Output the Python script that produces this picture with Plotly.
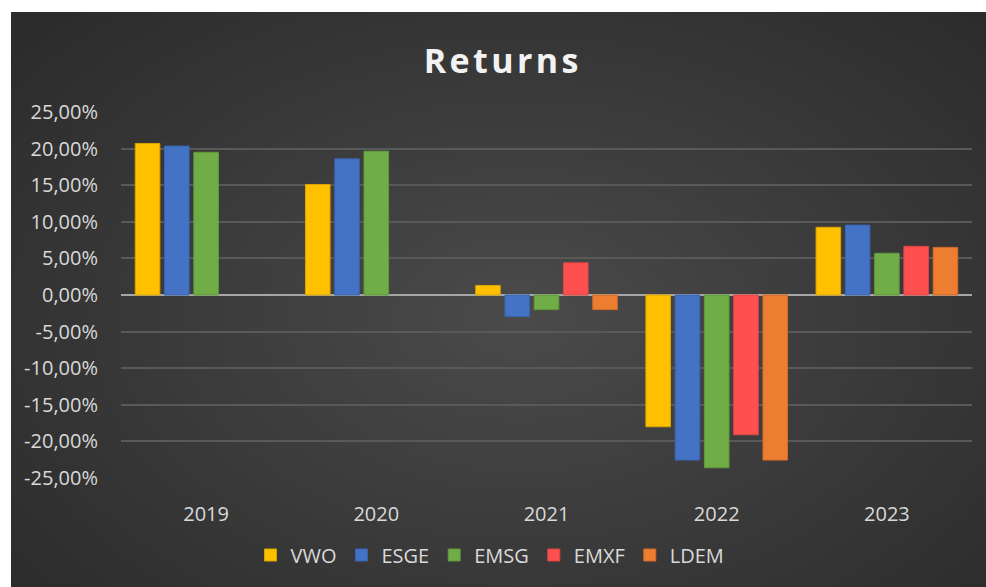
import plotly.graph_objects as go

# Data
years = ["2019", "2020", "2021", "2022", "2023"]
series = ["VWO", "ESGE", "EMSG", "EMXF", "LDEM"]
vwo = [20.7, 15.1, 1.3, -18.0, 9.25]
esge = [20.35, 18.6, -2.95, -22.55, 9.55]
emsg = [19.5, 19.65, -2.0, -23.6, 5.7]
emxf = [None, None, 4.4, -19.1, 6.65]
ldem = [None, None, -2.0, -22.55, 6.5]
y_ticks = [25, 20, 15, 10, 5, 0, -5, -10, -15, -20, -25]
y_tick_labels = ["25,00%", "20,00%", "15,00%", "10,00%", "5,00%", "0,00%",
                 "-5,00%", "-10,00%", "-15,00%", "-20,00%", "-25,00%"]

colors = ["#FFC000", "#4472C4", "#70AD47", "#FF5050", "#ED7D31"]
edges = ["#d9a300", "#3a64b0", "#62993d", "#e04545", "#cf6c28"]

# plot area in pixels
W, H = 986, 587
L, R, T, B = 121, 14, 112, 109
pw, ph = W - L - R, H - T - B


def px(x):
    return (x - L) / pw


def py(y):
    return (H - B - y) / ph


fig = go.Figure()
for name, vals, c, e in zip(series, [vwo, esge, emsg, emxf, ldem], colors, edges):
    fig.add_trace(go.Bar(x=years, y=vals, name=name,
                         marker=dict(color=c, line=dict(color=e, width=1))))

shapes = []
# soft radial-ish gradient in the background
cx, cy = 520, 320
n = 30
for i in range(n):
    rx = 640 - i * 640 / n
    ry = 420 - i * 420 / n
    shapes.append(dict(type="circle", xref="paper", yref="paper", layer="below",
                       x0=px(cx - rx), x1=px(cx + rx), y0=py(cy + ry), y1=py(cy - ry),
                       fillcolor="rgba(255,255,255,0.0085)", line=dict(width=0)))
# white border of the picture
shapes.append(dict(type="rect", xref="paper", yref="paper", layer="above",
                   x0=px(0), x1=px(11), y0=py(H), y1=py(0),
                   fillcolor="white", line=dict(width=0)))
shapes.append(dict(type="rect", xref="paper", yref="paper", layer="above",
                   x0=px(0), x1=px(W), y0=py(12), y1=py(0),
                   fillcolor="white", line=dict(width=0)))

title = "\u200a".join("Returns")

fig.update_layout(
    width=W, height=H,
    margin=dict(l=L, r=R, t=T, b=B),
    paper_bgcolor="#2c2c2c",
    plot_bgcolor="rgba(0,0,0,0)",
    font=dict(family="Open Sans, sans-serif", color="#d9d9d9", size=20),
    title=dict(text="<b>" + title + "</b>", x=501 / W, xanchor="center",
               y=1 - 61 / H, yanchor="middle",
               font=dict(size=34, color="#f2f2f2", family="Open Sans, sans-serif")),
    barmode="group", bargap=0.14, bargroupgap=0.16,
    showlegend=True,
    legend=dict(orientation="h", x=px(490), xanchor="center", y=py(555), yanchor="middle",
                font=dict(size=20, color="#d9d9d9"), itemwidth=30,
                bgcolor="rgba(0,0,0,0)"),
    shapes=shapes,
)
fig.update_xaxes(type="category", showgrid=False, showline=False, ticks="",
                 ticklabelstandoff=22, tickfont=dict(size=20, color="#d9d9d9"))
fig.update_yaxes(range=[-25, 25], tickvals=y_ticks, ticktext=y_tick_labels,
                 showgrid=True, gridcolor="#595959", gridwidth=1.5,
                 zeroline=True, zerolinecolor="#a6a6a6", zerolinewidth=2,
                 ticklabelstandoff=22, tickfont=dict(size=20, color="#d9d9d9"))

fig.write_html("out.html", config={"displayModeBar": False},
               post_script="document.body.style.margin='0';"
                           "document.body.style.overflow='hidden';")
